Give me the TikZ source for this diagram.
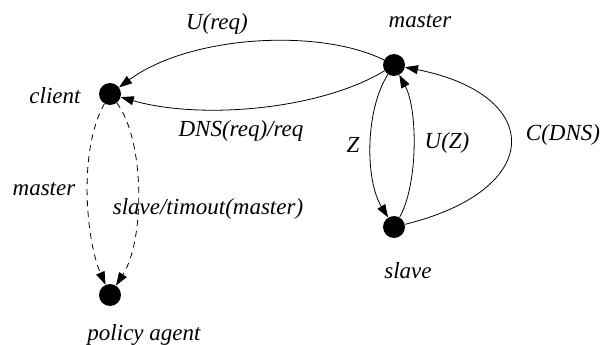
\documentclass[tikz,border=0pt]{standalone}
\usepackage{fontspec}
\setmainfont{Liberation Serif}
\newfontfamily\lblfont{Liberation Serif}
\usetikzlibrary{arrows.meta}

\tikzset{
  state/.style={circle,fill=black,minimum size=22pt,inner sep=0pt},
  lbl/.style={inner sep=0pt,font=\lblfont\fontsize{23}{27}\selectfont\itshape},
  trans/.style={line width=0.8pt,-{Triangle[length=13pt,width=9pt]}},
  dtrans/.style={trans,dash pattern=on 6pt off 5pt}
}

\begin{document}
\begin{tikzpicture}[x=1pt,y=-1pt]
\path[use as bounding box] (0,0) rectangle (616,345);
% states
\node[state] (client) at (110,94) {};
\node[state] (master) at (394,65) {};
\node[state] (slave) at (394,227) {};
\node[state] (agent) at (110,295) {};
\node[lbl] at (55,96) {client};
\node[lbl] at (420,21) {master};
\node[lbl] at (408,271) {slave};
\node[lbl] at (144,335) {policy agent};
% transitions
\draw[trans] (master) .. controls (320,28) and (190,35) .. (client);
\draw[trans] (master) .. controls (320,110) and (200,120) .. (client);
\draw[trans] (master) .. controls (365,110) and (365,180) .. (slave);
\draw[trans] (slave) .. controls (418,185) and (418,110) .. (master);
\draw[trans] (slave) .. controls (545,190) and (545,95) .. (master);
\draw[dtrans] (client) .. controls (78,150) and (86,240) .. (agent);
\draw[dtrans] (client) .. controls (145,140) and (145,240) .. (agent);
\node[lbl] at (217,24) {U(req)};
\node[lbl] at (241,131) {DNS(req)/req};
\node[lbl] at (353,145) {Z};
\node[lbl] at (447,143) {U(Z)};
\node[lbl] at (563,135) {C(DNS)};
\node[lbl] at (44,189) {master};
\node[lbl] at (208,209) {slave/timout(master)};
\end{tikzpicture}
\end{document}
